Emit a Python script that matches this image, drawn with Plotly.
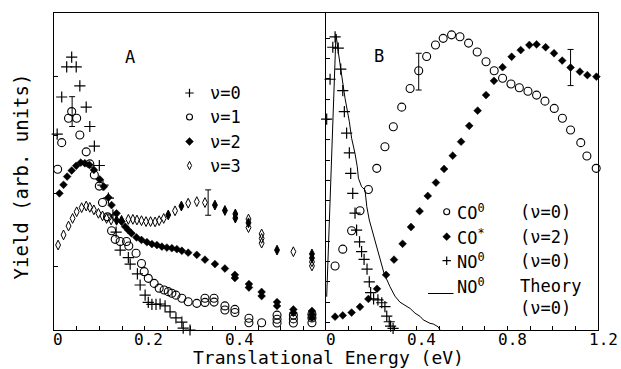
import plotly.graph_objects as go

FONT = "DejaVu Sans Mono"

# ---------------- Panel A (x: eV, y: yield arb. units) ----------------
a_nu0_x = [0.007, 0.017, 0.028, 0.039, 0.049, 0.057, 0.071, 0.079, 0.089, 0.100, 0.108, 0.120,
           0.130, 0.137, 0.146, 0.164, 0.168, 0.184, 0.190, 0.201, 0.208, 0.216, 0.225, 0.234,
           0.245, 0.256, 0.269, 0.282, 0.285, 0.300]
a_nu0_y = [61.8, 73.5, 83.0, 86.1, 83.0, 77.0, 70.3, 64.2, 58.0, 51.9, 45.7, 41.6,
           36.3, 30.9, 25.2, 22.8, 20.8, 17.7, 14.2, 11.0, 8.7, 8.1, 8.1, 8.2,
           7.6, 5.7, 3.8, 2.5, 0.6, 0.0]

a_nu1_x = [0.008, 0.017, 0.032, 0.039, 0.050, 0.057, 0.071, 0.079, 0.089, 0.100, 0.107, 0.118,
           0.127, 0.135, 0.146, 0.160, 0.165, 0.181, 0.193, 0.199, 0.208, 0.221, 0.232, 0.243,
           0.252, 0.260, 0.269, 0.282, 0.296, 0.315, 0.333, 0.333, 0.353, 0.353, 0.377, 0.377,
           0.399, 0.399, 0.430, 0.430, 0.458, 0.492, 0.492, 0.492, 0.528, 0.528, 0.528,
           0.569, 0.569, 0.569]
a_nu1_y = [50.7, 59.1, 66.8, 68.9, 66.8, 61.5, 56.2, 52.4, 48.9, 45.4, 40.2, 35.7,
           31.3, 28.6, 27.9, 27.9, 26.5, 24.2, 21.0, 18.4, 16.3, 14.7, 13.2, 12.6,
           12.1, 11.6, 11.0, 10.0, 8.9, 8.4, 10.0, 8.7, 10.0, 8.8, 7.6, 6.3,
           6.5, 5.5, 3.7, 2.3, 2.3, 4.7, 3.4, 2.2, 4.7, 3.5, 2.2,
           5.0, 3.8, 2.3]

a_nu2_x = [0.012, 0.021, 0.029, 0.039, 0.049, 0.059, 0.068, 0.078, 0.088, 0.101, 0.110, 0.120,
           0.127, 0.138, 0.149, 0.157, 0.164, 0.171, 0.182, 0.193, 0.205, 0.216, 0.227, 0.238,
           0.249, 0.260, 0.271, 0.282, 0.296, 0.315, 0.333, 0.355, 0.377, 0.399, 0.399,
           0.430, 0.430, 0.458, 0.458, 0.492, 0.492, 0.528, 0.528, 0.569, 0.569, 0.569]
a_nu2_y = [43.1, 45.8, 48.4, 50.3, 51.8, 52.8, 52.6, 52.1, 50.5, 47.5, 45.2, 41.8,
           39.4, 36.8, 34.2, 32.6, 31.5, 30.5, 29.2, 28.4, 27.7, 27.1, 26.8, 26.3,
           26.0, 25.8, 25.5, 25.0, 24.4, 23.7, 22.2, 20.8, 19.4, 17.4, 16.4,
           14.5, 13.4, 12.0, 10.7, 8.8, 7.6, 6.5, 5.4, 6.0, 4.9, 3.8]

a_nu3_x = [0.009, 0.021, 0.032, 0.041, 0.050, 0.061, 0.071, 0.079, 0.088, 0.098, 0.107, 0.116,
           0.126, 0.138, 0.149, 0.164, 0.174, 0.183, 0.193, 0.203, 0.213, 0.223, 0.232, 0.242,
           0.252, 0.267, 0.281, 0.296, 0.315, 0.333, 0.355, 0.377, 0.400, 0.400,
           0.429, 0.429, 0.429, 0.458, 0.458, 0.458, 0.492, 0.528, 0.569, 0.569, 0.569, 0.569]
a_nu3_y = [26.8, 30.0, 32.8, 35.2, 37.3, 38.6, 39.1, 38.7, 37.9, 36.8, 36.0, 35.2,
           34.7, 34.6, 34.6, 34.9, 34.9, 34.7, 34.5, 34.2, 34.2, 34.1, 34.5, 35.2,
           36.3, 37.6, 39.1, 40.0, 40.5, 40.2, 39.4, 37.7, 36.6, 35.3,
           35.0, 33.8, 32.3, 30.3, 28.9, 27.4, 25.2, 24.7, 24.0, 22.7, 21.5, 20.2]
# points of the v=3 series that print as dark (filled) symbols
a_nu3_dark = [0, 0, 0, 0, 0, 0, 0, 0, 0, 0, 0, 0,
              0, 1, 1, 0, 0, 0, 0, 0, 0, 0, 0, 0,
              1, 0, 1, 0, 0, 0, 1, 1, 1, 1,
              0, 1, 0, 0, 0, 0, 1, 0, 1, 1, 0, 0]

a_err_x = [0.040, 0.340]
a_err_y = [68.9, 40.2]
a_err_e = [4.7, 4.0]

# ---------------- Panel B ----------------
b_no_x = [0.003, 0.018, 0.030, 0.040, 0.054, 0.065, 0.074, 0.081, 0.091, 0.103, 0.109, 0.118,
          0.128, 0.135, 0.148, 0.157, 0.168, 0.181, 0.191, 0.197, 0.210, 0.229, 0.246, 0.260,
          0.268, 0.279, 0.285, 0.296]
b_no_y = [66.5, 79.1, 89.2, 92.5, 88.9, 82.3, 75.5, 68.9, 62.1, 55.9, 49.4, 43.1,
          36.9, 31.5, 27.8, 24.7, 22.3, 19.2, 15.2, 11.8, 9.8, 9.5, 8.6, 7.4,
          4.4, 2.6, 1.2, 0.5]

b_theory_x = [0.003, 0.044, 0.054, 0.065, 0.084, 0.103, 0.113, 0.128, 0.138, 0.143, 0.157, 0.172,
              0.180, 0.191, 0.203, 0.216, 0.235, 0.256, 0.282, 0.304, 0.326, 0.356, 0.371, 0.393,
              0.415, 0.429, 0.459, 0.473, 0.495, 0.503]
b_theory_y = [10.5, 93.4, 87.8, 82.0, 73.1, 65.7, 60.5, 55.7, 51.5, 47.9, 45.2, 44.2,
              38.9, 34.7, 31.5, 27.9, 22.7, 17.9, 13.7, 10.7, 8.8, 7.4, 6.8, 5.3,
              4.3, 3.2, 2.1, 1.9, 1.0, 0.0]

b_co0_x = [0.040, 0.074, 0.113, 0.150, 0.187, 0.224, 0.260, 0.297, 0.334, 0.371, 0.409, 0.444,
           0.483, 0.517, 0.554, 0.591, 0.629, 0.667, 0.706, 0.742, 0.779, 0.816, 0.853, 0.891,
           0.929, 0.966, 1.007, 1.043, 1.079, 1.124, 1.151, 1.192]
b_co0_y = [20.2, 25.5, 31.3, 37.6, 44.3, 51.0, 57.8, 64.1, 70.3, 76.2, 81.8, 86.3,
           89.9, 92.0, 93.1, 92.5, 90.5, 87.7, 84.6, 81.8, 79.4, 77.6, 76.4, 75.3,
           74.1, 72.2, 69.9, 66.8, 63.1, 59.1, 54.9, 51.0]

b_co2_x = [0.040, 0.074, 0.113, 0.150, 0.187, 0.225, 0.265, 0.300, 0.338, 0.375, 0.413, 0.449,
           0.485, 0.521, 0.559, 0.596, 0.632, 0.669, 0.706, 0.741, 0.779, 0.819, 0.859, 0.897,
           0.929, 0.969, 1.006, 1.042, 1.079, 1.120, 1.153, 1.193]
b_co2_y = [4.2, 4.6, 5.5, 7.3, 9.8, 13.0, 17.4, 22.2, 27.2, 32.5, 37.5, 42.3,
           46.5, 50.8, 55.0, 59.4, 64.4, 69.2, 74.1, 78.6, 82.9, 86.2, 88.3, 89.9,
           90.1, 89.2, 87.3, 85.0, 82.8, 81.5, 80.4, 79.9]

b_err_x = [0.409, 1.079]
b_err_y = [81.5, 82.8]
b_err_e = [5.8, 5.7]

a_xtick_vals = [0, 0.2, 0.4]
a_xtick_text = ["0", "0.2", "0.4"]
b_xtick_vals = [0, 0.4, 0.8, 1.2]
b_xtick_text = ["0", "0.4", "0.8", "1.2"]

# ---------------- figure geometry ----------------
W, H = 621, 369
L, R, T, B = 54, 23, 13, 39
PW, PH = W - L - R, H - T - B


def pxx(px):
    return (px - L) / PW


def pxy(py):
    return (T + PH - py) / PH


BLACK = "black"
plus = dict(symbol="cross-thin", size=8, line=dict(width=1.2, color=BLACK), color=BLACK)
circ = dict(symbol="circle-open", size=8, line=dict(width=1.1, color=BLACK), color=BLACK)
fdia = dict(symbol="diamond", size=6, color=BLACK, line=dict(width=0.5, color=BLACK))
odia = dict(symbol="diamond-tall-open", size=7, line=dict(width=1, color=BLACK), color=BLACK)

fig = go.Figure()

# Panel A traces
fig.add_trace(go.Scatter(x=a_nu0_x, y=a_nu0_y, mode="markers", marker=plus, xaxis="x", yaxis="y", cliponaxis=False))
fig.add_trace(go.Scatter(x=a_nu1_x, y=a_nu1_y, mode="markers", marker=circ, xaxis="x", yaxis="y", cliponaxis=False))
fig.add_trace(go.Scatter(x=a_nu2_x, y=a_nu2_y, mode="markers", marker=fdia, xaxis="x", yaxis="y", cliponaxis=False))
nu3_sym = ["diamond-tall" if d else "diamond-tall-open" for d in a_nu3_dark]
fig.add_trace(go.Scatter(x=a_nu3_x, y=a_nu3_y, mode="markers",
                         marker=dict(symbol=nu3_sym, size=7, color=BLACK, line=dict(width=1, color=BLACK)),
                         xaxis="x", yaxis="y", cliponaxis=False))
fig.add_trace(go.Scatter(x=a_err_x, y=a_err_y, mode="markers",
                         marker=dict(size=1, color="rgba(0,0,0,0)"),
                         error_y=dict(type="data", array=a_err_e, color=BLACK, thickness=1, width=3),
                         xaxis="x", yaxis="y", cliponaxis=False))

# Panel B traces
fig.add_trace(go.Scatter(x=b_theory_x, y=b_theory_y, mode="lines", line=dict(color=BLACK, width=1),
                         xaxis="x2", yaxis="y2"))
fig.add_trace(go.Scatter(x=b_no_x, y=b_no_y, mode="markers", marker=plus, xaxis="x2", yaxis="y2", cliponaxis=False))
fig.add_trace(go.Scatter(x=b_co0_x, y=b_co0_y, mode="markers", marker=circ, xaxis="x2", yaxis="y2", cliponaxis=False))
fig.add_trace(go.Scatter(x=b_co2_x, y=b_co2_y, mode="markers", marker=fdia, xaxis="x2", yaxis="y2", cliponaxis=False))
fig.add_trace(go.Scatter(x=b_err_x, y=b_err_y, mode="markers",
                         marker=dict(size=1, color="rgba(0,0,0,0)"),
                         error_y=dict(type="data", array=b_err_e, color=BLACK, thickness=1, width=3),
                         xaxis="x2", yaxis="y2", cliponaxis=False))

# Legend keys (overlay axis in figure-pixel units)
keyA_y = [93, 117, 141.5, 165.5]
for sym, yy in zip([plus, circ, fdia, odia], keyA_y):
    m = dict(sym)
    m["size"] = 6
    fig.add_trace(go.Scatter(x=[189.5], y=[yy], mode="markers", marker=m, xaxis="x3", yaxis="y3"))
keyB_y = [211.7, 236.7, 260.7]
for sym, yy in zip([circ, fdia, plus], keyB_y):
    m = dict(sym)
    m["size"] = 6
    fig.add_trace(go.Scatter(x=[446.7], y=[yy], mode="markers", marker=m, xaxis="x3", yaxis="y3"))
fig.add_trace(go.Scatter(x=[428, 453.5], y=[293.5, 293.5], mode="lines", line=dict(color=BLACK, width=1),
                         xaxis="x3", yaxis="y3"))

axis_common = dict(showline=True, linecolor=BLACK, linewidth=1.2, ticks="inside",
                   ticklen=4, tickwidth=1, tickcolor=BLACK, showgrid=False, zeroline=False,
                   showticklabels=False)

a_xt = [round(0.05 * i, 2) for i in range(1, 12)]
b_xt = [round(0.1 * i, 1) for i in range(1, 12)]
a_yt = [19.9, 43.2, 61.5, 80.1]
b_yt = [round(92.0 - 6.4 * k, 1) for k in range(15)]

fig.update_layout(
    width=W, height=H,
    margin=dict(l=L, r=R, t=T, b=B, pad=0),
    paper_bgcolor="white", plot_bgcolor="rgba(0,0,0,0)",
    showlegend=False,
    xaxis=dict(domain=[0, 0.5], range=[0, 0.6], anchor="y", tickvals=a_xt, mirror=True, **axis_common),
    yaxis=dict(domain=[0, 1], range=[0, 100], anchor="x", tickvals=a_yt, mirror=False, **axis_common),
    xaxis2=dict(domain=[0.5, 1], range=[0, 1.2], anchor="y2", tickvals=b_xt, mirror=True, **axis_common),
    yaxis2=dict(domain=[0, 1], range=[0, 100], anchor="x2", tickvals=b_yt, mirror=True, **axis_common),
    xaxis3=dict(domain=[0, 1], range=[L, W - R], anchor="y3", visible=False, fixedrange=True),
    yaxis3=dict(domain=[0, 1], range=[H - B, T], anchor="x3", visible=False, fixedrange=True),
)

ann = []


def text(px, py, s, size=17, xanchor="left", angle=0):
    ann.append(dict(x=pxx(px), y=pxy(py), xref="paper", yref="paper", text=s, showarrow=False,
                    xanchor=xanchor, yanchor="middle", textangle=angle,
                    font=dict(family=FONT, size=size, color=BLACK)))


# x tick labels (offset a few px right of their tick, as in the original)
for v, s in zip(a_xtick_vals, a_xtick_text):
    ann.append(dict(x=v, y=pxy(339.5), xref="x", yref="paper", text=s, showarrow=False, xshift=4,
                    xanchor="center", yanchor="middle", font=dict(family=FONT, size=16, color=BLACK)))
for v, s in zip(b_xtick_vals, b_xtick_text):
    ann.append(dict(x=v, y=pxy(339.5), xref="x2", yref="paper", text=s, showarrow=False, xshift=5,
                    xanchor="center", yanchor="middle", font=dict(family=FONT, size=16, color=BLACK)))

text(130, 57, "A", 17, "center")
text(379, 56, "B", 17, "center")
for lab, yy in zip(["ν=0", "ν=1", "ν=2", "ν=3"], keyA_y):
    text(208, yy, lab, 17)
text(455, 211.7, "CO<sup>0</sup>", 17)
text(518, 211.7, "(ν=0)", 17)
text(455, 236.7, "CO<sup>*</sup>", 17)
text(518, 236.7, "(ν=2)", 17)
text(455, 260.7, "NO<sup>0</sup>", 17)
text(518, 260.7, "(ν=0)", 17)
text(455, 285.7, "NO<sup>0</sup>", 17)
text(518, 285.7, "Theory", 17)
text(518, 308.3, "(ν=0)", 17)
text(328, 358, "Translational Energy (eV)", 18, "center")
text(20, 176.5, "Yield (arb. units)", 19, "center", -90)

fig.update_layout(annotations=ann)
fig.write_html("out.html", config={"displayModeBar": False},
               post_script="document.body.style.margin='0';document.body.style.padding='0';")
